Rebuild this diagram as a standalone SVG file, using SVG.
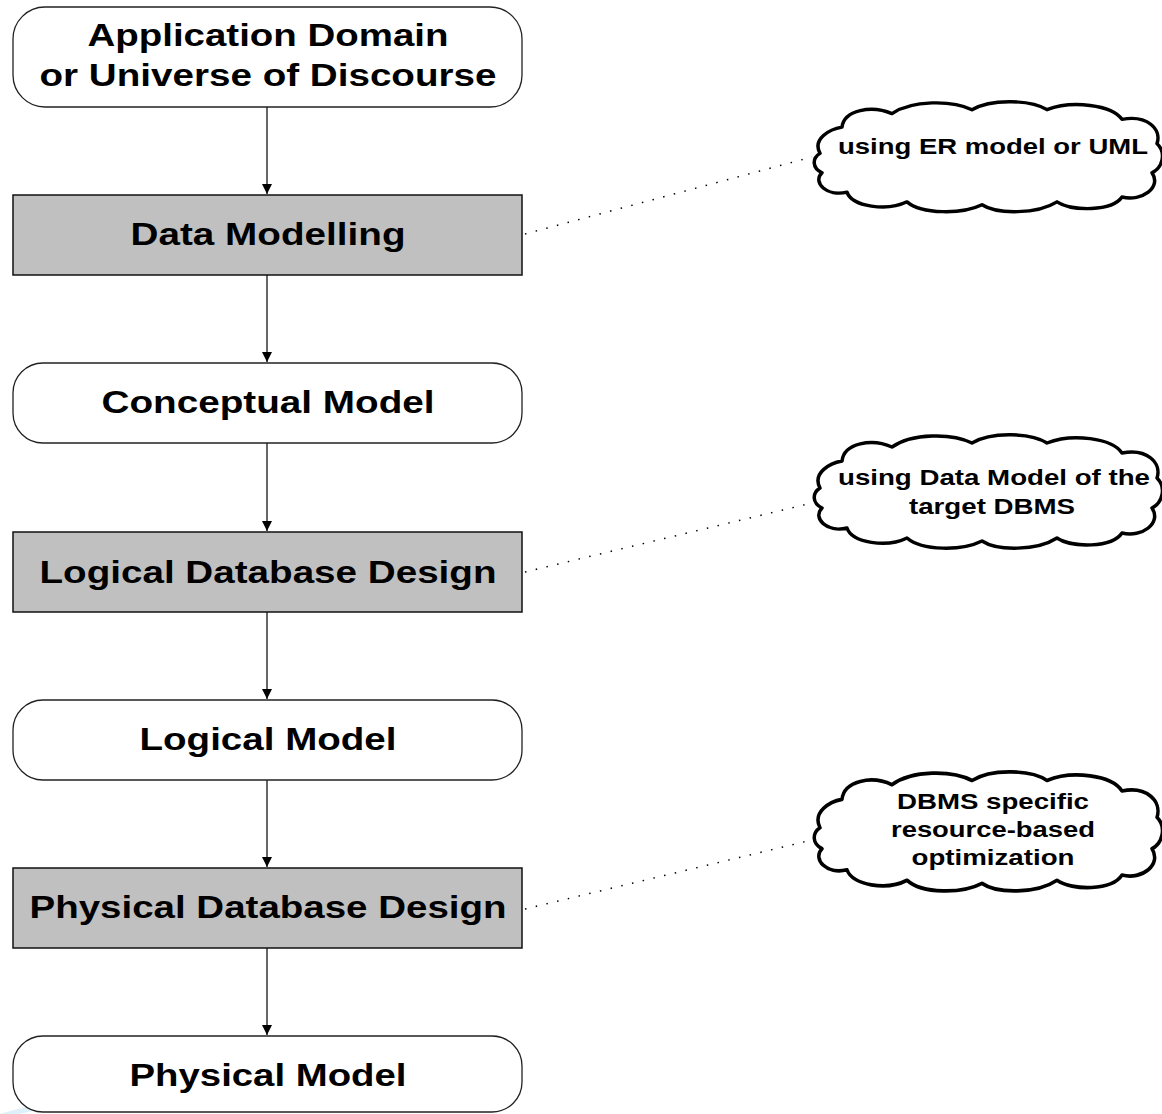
<svg xmlns="http://www.w3.org/2000/svg" xmlns:xlink="http://www.w3.org/1999/xlink" width="1162" height="1114" viewBox="0 0 1162 1114">
<style>
.t{font-family:"Liberation Sans",Arial,sans-serif;font-weight:bold;fill:#000;text-anchor:middle}
.main{font-size:31px}
.cl{font-size:22px}
.rnd{fill:#fff;stroke:#222;stroke-width:1.3}
.box{fill:#c0c0c0;stroke:#111;stroke-width:1.5}
.cloud{fill:#fff;stroke:#000;stroke-width:3.5;stroke-linejoin:round}
.arr{stroke:#000;stroke-width:1.2;fill:none;marker-end:url(#ah)}
.dot{stroke:#000;stroke-width:1.5;fill:none;stroke-dasharray:1.5 9.5}
</style>
<defs>
<marker id="ah" viewBox="0 0 10 10" refX="10" refY="5" markerWidth="10" markerHeight="10" markerUnits="userSpaceOnUse" orient="auto">
<path d="M0,0 L10,5 L0,10 Z" fill="#000"/>
</marker>
<path id="cloudp" d="M8,55 C0,40 18,30 30,28 C32,10 60,5 80,14 C100,0 140,0 160,10 C180,-2 220,0 235,10 C260,0 300,5 310,20 C335,15 350,30 345,45 C355,55 350,70 340,75 C350,90 330,105 310,100 C300,115 260,115 245,105 C225,118 185,118 170,108 C150,118 110,118 95,105 C75,115 40,110 35,95 C15,100 0,85 10,75 C0,70 0,60 8,55 Z"/>
</defs>
<path d="M0,1114 C30,1104 80,1098 140,1096 C90,1102 40,1108 20,1114 Z" fill="#d6eef6" opacity="0.8"/>
<g id="connectors">
<line class="arr" x1="267" y1="107" x2="267" y2="194"/>
<line class="arr" x1="267" y1="275" x2="267" y2="362"/>
<line class="arr" x1="267" y1="443" x2="267" y2="531"/>
<line class="arr" x1="267" y1="612" x2="267" y2="699"/>
<line class="arr" x1="267" y1="780" x2="267" y2="867"/>
<line class="arr" x1="267" y1="948" x2="267" y2="1035"/>
<line class="dot" x1="525" y1="234" x2="812" y2="157"/>
<line class="dot" x1="525" y1="572" x2="812" y2="503"/>
<line class="dot" x1="525" y1="909" x2="812" y2="840"/>
</g>
<g id="n1">
<rect class="rnd" x="13" y="7" width="509" height="100" rx="32" ry="32"/>
<text class="t main" x="268" y="46" textLength="361" lengthAdjust="spacingAndGlyphs">Application Domain</text>
<text class="t main" x="268" y="86" textLength="457" lengthAdjust="spacingAndGlyphs">or Universe of Discourse</text>
</g>
<g id="n2">
<rect class="box" x="13" y="195" width="509" height="80"/>
<text class="t main" x="268" y="245" textLength="275" lengthAdjust="spacingAndGlyphs">Data Modelling</text>
</g>
<g id="n3">
<rect class="rnd" x="13" y="363" width="509" height="80" rx="30" ry="30"/>
<text class="t main" x="268" y="413" textLength="333" lengthAdjust="spacingAndGlyphs">Conceptual Model</text>
</g>
<g id="n4">
<rect class="box" x="13" y="532" width="509" height="80"/>
<text class="t main" x="268" y="583" textLength="457" lengthAdjust="spacingAndGlyphs">Logical Database Design</text>
</g>
<g id="n5">
<rect class="rnd" x="13" y="700" width="509" height="80" rx="30" ry="30"/>
<text class="t main" x="268" y="750" textLength="257" lengthAdjust="spacingAndGlyphs">Logical Model</text>
</g>
<g id="n6">
<rect class="box" x="13" y="868" width="509" height="80"/>
<text class="t main" x="268" y="918" textLength="477" lengthAdjust="spacingAndGlyphs">Physical Database Design</text>
</g>
<g id="n7">
<rect class="rnd" x="13" y="1036" width="509" height="76" rx="30" ry="30"/>
<text class="t main" x="268" y="1086" textLength="277" lengthAdjust="spacingAndGlyphs">Physical Model</text>
</g>
<g id="c1">
<use xlink:href="#cloudp" class="cloud" transform="translate(812,100) scale(1,0.97)"/>
<text class="t cl" x="993" y="154" textLength="310" lengthAdjust="spacingAndGlyphs">using ER model or UML</text>
</g>
<g id="c2">
<use xlink:href="#cloudp" class="cloud" transform="translate(812,433) scale(1,1.0)"/>
<text class="t cl" x="994" y="485" textLength="312" lengthAdjust="spacingAndGlyphs">using Data Model of the</text>
<text class="t cl" x="992" y="514" textLength="166" lengthAdjust="spacingAndGlyphs">target DBMS</text>
</g>
<g id="c3">
<use xlink:href="#cloudp" class="cloud" transform="translate(812,770) scale(1,1.05)"/>
<text class="t cl" x="993" y="809" textLength="192" lengthAdjust="spacingAndGlyphs">DBMS specific</text>
<text class="t cl" x="993" y="837" textLength="204" lengthAdjust="spacingAndGlyphs">resource-based</text>
<text class="t cl" x="993" y="865" textLength="163" lengthAdjust="spacingAndGlyphs">optimization</text>
</g>
</svg>
